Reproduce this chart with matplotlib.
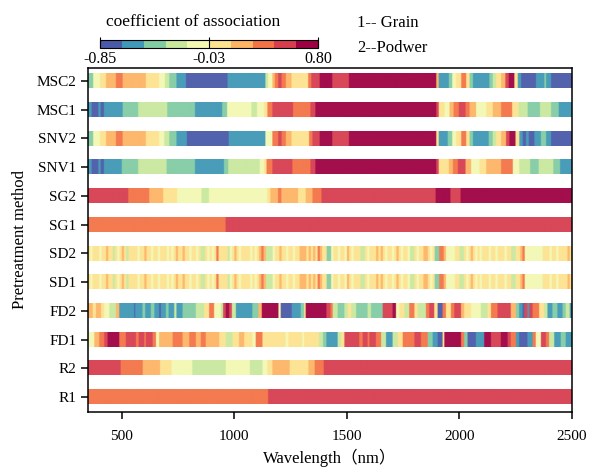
import numpy as np
import matplotlib
matplotlib.use("Agg")
import matplotlib.pyplot as plt
from matplotlib.colors import ListedColormap, BoundaryNorm
from matplotlib.colorbar import ColorbarBase


# 10 colour classes, low (blue) -> high (dark red)
CLASS_COLORS = ["#4a5aa8", "#3f98b5", "#82cca4", "#c9e89d", "#f3f8b3",
                "#fde38f", "#fdb465", "#f47346", "#d63e4f", "#9e0142"]
CBAR_MIN, CBAR_MAX = -0.85, 0.80
CBAR_TICKS = [-0.85, -0.025, 0.80]
CBAR_TICKLABELS = ["-0.85", "-0.03", "0.80"]

WL_START, WL_END = 350, 2500

# rows from top to bottom
METHODS = ["MSC2", "MSC1", "SNV2", "SNV1", "SG2", "SG1",
           "SD2", "SD1", "FD2", "FD1", "R2", "R1"]

# (start wavelength, colour class) segments
MSC2 = [(350, 2), (373, 4), (403, 5), (430, 6), (474, 7), (504, 6), (607, 5), (666, 4),
        (692, 3), (711, 2), (743, 1), (785, 0), (970, 1), (1138, 3), (1150, 4), (1169, 6),
        (1180, 7), (1195, 8), (1210, 7), (1229, 6), (1254, 5), (1328, 7), (1342, 8),
        (1379, 9), (1435, 8), (1509, 9), (1897, 6), (1908, 1), (1953, 2), (1968, 4),
        (1985, 5), (2008, 7), (2030, 5), (2045, 2), (2060, 1), (2133, 2), (2148, 3),
        (2163, 5), (2185, 6), (2204, 8), (2219, 9), (2244, 5), (2259, 1), (2274, 0),
        (2340, 1), (2377, 2), (2385, 1), (2407, 0)]
MSC1 = [(350, 1), (366, 0), (396, 1), (406, 0), (421, 1), (504, 2), (573, 3), (702, 2),
        (825, 1), (946, 2), (968, 4), (1076, 3), (1101, 4), (1132, 5), (1147, 7),
        (1169, 8), (1261, 7), (1338, 8), (1360, 9), (1897, 8), (1908, 5), (1934, 4),
        (1956, 6), (1974, 7), (1997, 8), (2027, 7), (2045, 6), (2074, 4), (2119, 5),
        (2148, 6), (2185, 7), (2234, 5), (2263, 3), (2303, 2), (2358, 3), (2407, 2),
        (2441, 1)]
SNV2 = [(350, 2), (373, 4), (403, 5), (430, 6), (474, 7), (504, 6), (607, 5), (666, 4),
        (689, 3), (711, 2), (743, 1), (789, 0), (975, 1), (1138, 4), (1169, 7),
        (1195, 8), (1210, 7), (1229, 6), (1254, 5), (1332, 7), (1347, 8), (1379, 9),
        (1435, 8), (1509, 9), (1897, 5), (1908, 1), (1948, 2), (1968, 4), (1985, 5),
        (2008, 7), (2030, 5), (2045, 2), (2060, 1), (2130, 2), (2148, 3), (2163, 5),
        (2185, 6), (2207, 8), (2222, 9), (2249, 5), (2266, 1), (2281, 0), (2296, 1),
        (2308, 0), (2333, 1), (2362, 2), (2385, 1), (2407, 0)]
SNV1 = [(350, 1), (366, 0), (396, 1), (406, 0), (421, 1), (500, 2), (573, 3), (699, 2),
        (825, 1), (954, 2), (973, 3), (1113, 4), (1132, 5), (1143, 7), (1169, 8),
        (1258, 7), (1338, 8), (1360, 9), (1897, 8), (1908, 5), (1953, 6), (1971, 7),
        (1993, 8), (2027, 6), (2052, 4), (2089, 5), (2119, 6), (2185, 7), (2237, 4),
        (2266, 3), (2314, 2), (2352, 3), (2417, 2), (2447, 1)]
SG2 = [(350, 8), (529, 7), (622, 6), (684, 5), (746, 4), (854, 3), (887, 4), (1146, 5),
       (1160, 6), (1194, 7), (1209, 6), (1283, 5), (1317, 6), (1347, 7), (1387, 8),
       (1894, 9), (1960, 8), (2005, 9)]
SG1 = [(350, 7), (961, 8)]
FD2 = [(350, 6), (371, 5), (385, 6), (408, 5), (422, 4), (445, 3), (474, 6), (489, 1),
       (555, 0), (560, 1), (592, 2), (604, 1), (629, 2), (645, 1), (666, 0), (674, 1),
       (696, 2), (708, 1), (733, 3), (743, 1), (770, 2), (829, 3), (866, 5), (888, 7),
       (910, 4), (940, 3), (950, 8), (962, 9), (977, 8), (989, 3), (1007, 1), (1080, 2),
       (1107, 6), (1122, 9), (1196, 4), (1206, 0), (1255, 1), (1295, 2), (1310, 5),
       (1317, 9), (1409, 8), (1427, 7), (1437, 3), (1459, 2), (1489, 3), (1504, 5),
       (1519, 3), (1541, 2), (1592, 3), (1607, 2), (1659, 8), (1703, 9), (1718, 4),
       (1733, 5), (1755, 3), (1777, 7), (1800, 5), (1814, 3), (1851, 7), (1866, 8),
       (1888, 5), (1903, 0), (1925, 7), (1940, 5), (1962, 7), (1977, 8), (2007, 6),
       (2021, 5), (2051, 4), (2095, 3), (2125, 5), (2140, 7), (2169, 8), (2228, 6),
       (2251, 2), (2265, 1), (2280, 0), (2288, 8), (2302, 1), (2310, 8), (2325, 7),
       (2354, 5), (2376, 3), (2391, 1), (2413, 2), (2435, 1), (2458, 2), (2472, 3),
       (2490, 1)]
FD1 = [(350, 4), (378, 6), (400, 7), (422, 8), (437, 9), (489, 7), (518, 8), (563, 7),
       (575, 8), (600, 7), (607, 8), (637, 7), (652, 4), (666, 6), (726, 7), (770, 6),
       (800, 7), (829, 6), (851, 7), (873, 6), (933, 5), (962, 3), (992, 5), (1021, 6),
       (1044, 5), (1080, 4), (1095, 7), (1125, 5), (1228, 4), (1240, 5), (1302, 4),
       (1310, 5), (1376, 3), (1394, 2), (1409, 1), (1459, 3), (1474, 5), (1489, 8),
       (1555, 7), (1570, 8), (1592, 7), (1600, 8), (1629, 7), (1652, 3), (1674, 1),
       (1703, 3), (1726, 5), (1748, 7), (1800, 8), (1829, 7), (1859, 2), (1881, 1),
       (1903, 0), (1925, 5), (1933, 9), (2007, 7), (2021, 2), (2036, 0), (2073, 1),
       (2110, 9), (2140, 8), (2184, 9), (2214, 8), (2228, 7), (2251, 1), (2265, 0),
       (2302, 1), (2325, 7), (2339, 4), (2362, 8), (2384, 7), (2398, 3), (2421, 1),
       (2450, 2), (2472, 1)]
R2 = [(350, 8), (495, 7), (593, 6), (670, 5), (721, 4), (813, 3), (962, 4), (1069, 3),
      (1125, 4), (1147, 5), (1169, 6), (1246, 5), (1329, 6), (1357, 7), (1397, 8)]
R1 = [(350, 7), (1150, 8)]

# second derivative rows: one colour class per 10 nm bin (350 .. 2500)
SD2 = ("5455545565" "5354565355" "5545565545" "5455545456" "5565545545"
       "3354545755" "5534565455" "5545456763" "3345565545" "5455666565"
       "6576552245" "5455465455" "5335455565" "6545545654" "5543354556"
       "6545227764" "4445533545" "6545455545" "5455545533" "5567444444"
       "4455545545" "55565")
SD1 = ("5455545565" "5354565355" "5545565545" "5455545456" "5565545545"
       "3354545755" "5534565455" "5545456763" "3345565545" "5455666565"
       "6576552245" "5455465455" "5335455565" "6545545654" "5543354556"
       "6545227764" "4445533545" "6545455545" "5455545533" "5567444444"
       "4455545545" "55565")

ROWS = {"MSC2": MSC2, "MSC1": MSC1, "SNV2": SNV2, "SNV1": SNV1, "SG2": SG2,
        "SG1": SG1, "SD2": SD2, "SD1": SD1, "FD2": FD2, "FD1": FD1,
        "R2": R2, "R1": R1}


def expand(row):
    wl = np.arange(WL_START, WL_END) + 0.5
    if isinstance(row, str):
        vals = np.array([int(c) for c in row])
        return np.repeat(vals, 10)[: len(wl)]
    starts = np.array([s for s, _ in row])
    cls = np.array([c for _, c in row])
    return cls[np.searchsorted(starts, wl, side="right") - 1]


def main():
    plt.rcParams["font.family"] = ["Liberation Serif", "Noto Sans CJK SC"]
    plt.rcParams["font.size"] = 11

    cmap = ListedColormap(CLASS_COLORS)

    fig = plt.figure(figsize=(5.89, 4.67), dpi=100)
    ax = fig.add_axes([0.1494, 0.1178, 0.8217, 0.7366])

    n = len(METHODS)
    for i, name in enumerate(METHODS):
        y = n - 1 - i
        vals = expand(ROWS[name])[np.newaxis, :]
        ax.imshow(vals, cmap=cmap, vmin=-0.5, vmax=9.5, aspect="auto",
                  extent=(WL_START, WL_END, y - 0.25, y + 0.25),
                  interpolation="bilinear", interpolation_stage="rgba", alpha=0.95)

    ax.set_xlim(WL_START, WL_END)
    ax.set_ylim(-0.52, n - 1 + 0.45)
    ax.set_yticks(np.arange(n))
    ax.set_yticklabels(METHODS[::-1])
    ax.set_xticks([500, 1000, 1500, 2000, 2500])
    ax.tick_params(axis="both", length=5, width=1.1, labelsize=11)
    ax.tick_params(axis="x", pad=8)
    for sp in ax.spines.values():
        sp.set_linewidth(1.1)
    ax.set_xlabel("Wavelength（nm）", fontsize=12, labelpad=4)
    ax.set_ylabel("Pretreatment method", fontsize=12, labelpad=6)

    # colour bar at the top left
    cax = fig.add_axes([0.170, 0.897, 0.370, 0.018])
    bounds = np.linspace(CBAR_MIN, CBAR_MAX, len(CLASS_COLORS) + 1)
    cb = ColorbarBase(cax, cmap=cmap, norm=BoundaryNorm(bounds, cmap.N),
                      orientation="horizontal", ticks=CBAR_TICKS)
    cb.set_ticklabels(CBAR_TICKLABELS)
    cb.minorticks_off()
    cb.outline.set_linewidth(0.8)
    cax.tick_params(which="both", length=8, width=0.8, direction="in",
                    labelsize=11.5, pad=2)
    cax.xaxis.set_ticks_position("bottom")
    fig.text(0.328, 0.953, "coefficient of association", ha="center", va="center",
             fontsize=12.5)

    fig.text(0.606, 0.951, "1-- Grain", ha="left", va="center", fontsize=12)
    fig.text(0.606, 0.898, "2--Podwer", ha="left", va="center", fontsize=12)

    fig.savefig("out.png", dpi=100)


if __name__ == "__main__":
    main()
